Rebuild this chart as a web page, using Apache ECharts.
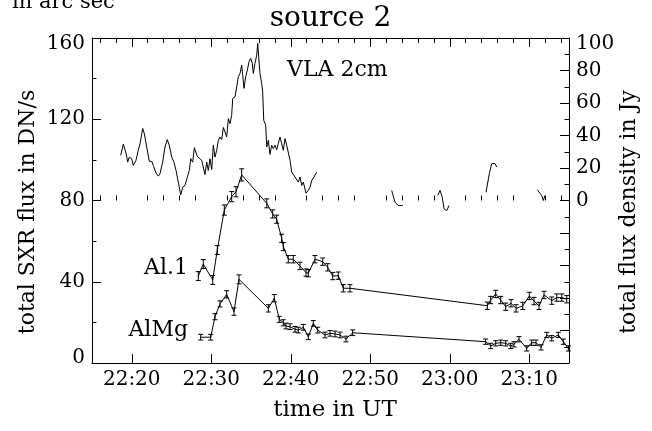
<!DOCTYPE html>
<html><head><meta charset="utf-8">
<script src="https://cdn.jsdelivr.net/npm/echarts@6/dist/echarts.min.js"></script>
<style>html,body{margin:0;padding:0;background:#fff}#c{width:652px;height:431px}</style>
</head><body><div id="c"></div>
<script>
// ---- data (time in minutes after 22:00 UT) ----
const xMin = 15, xMax = 75;
const xMajorTicks = [20, 30, 40, 50, 60, 70];
const xTickLabels = ['22:20', '22:30', '22:40', '22:50', '23:00', '23:10'];
const xMinorTicks = [16,18,22,24,26,28,32,34,36,38,42,44,46,48,52,54,56,58,62,64,66,68,72,74];

// VLA 2cm total flux density (Jy), null = data gap
const vlaTime = [18.61,18.94,19.28,19.49,19.69,19.99,20.20,20.53,20.82,21.04,
  21.38,21.58,21.88,22.21,22.51,22.71,23.05,23.34,23.55,23.89,
  24.18,24.47,24.72,25.03,25.31,25.57,25.86,26.16,26.41,26.70,
  26.99,27.24,27.42,27.67,27.87,28.08,28.25,28.50,28.80,29.00,
  29.21,29.43,29.63,29.84,30.06,30.26,30.47,30.69,30.89,31.10,
  31.32,31.52,31.73,31.94,32.15,32.36,32.57,32.70,32.99,33.20,
  33.40,33.62,33.83,33.96,34.12,34.33,34.54,34.75,34.96,35.16,
  35.29,35.50,35.72,35.84,35.97,36.13,36.35,36.47,36.60,36.85,
  36.98,37.18,37.39,37.60,37.81,38.02,38.23,38.43,38.65,38.86,
  39.06,39.28,39.49,39.69,39.91,40.12,40.41,40.66,40.95,41.16,
  41.38,41.58,41.92,42.21,42.42,42.64,42.92,43.26,
  48.0,
  52.70,53.11,53.53,54.08,
  56.0,
  58.49,58.78,59.06,59.28,59.62,59.91,
  62.0,
  64.56,64.98,65.28,65.69,65.91,
  68.5,
  71.01,71.57,71.77,71.98];
const vlaFlux = [27.8,34.6,29.2,23.6,26.7,25.7,21.6,24.7,30.9,35.0,
  44.3,41.2,32.9,24.1,24.1,21.6,16.9,15.0,16.5,23.6,
  32.9,37.5,34.0,26.7,23.6,18.5,11.3,3.5,8.2,9.3,
  14.4,18.5,25.7,23.6,32.5,31.9,27.2,28.4,24.7,25.1,
  16.0,23.6,18.5,25.7,19.0,34.0,26.7,30.9,37.0,39.1,
  37.5,44.9,42.2,39.1,50.4,47.3,52.5,62.8,63.8,69.9,
  76.1,78.2,83.3,84.4,69.0,76.1,80.2,85.4,87.5,84.4,
  78.2,84.4,89.5,96.7,97.7,78.2,72.0,66.9,49.4,46.3,
  32.9,37.0,28.4,34.0,31.9,34.0,31.3,35.0,39.1,35.0,
  30.9,38.1,34.0,35.0,24.7,17.5,15.4,16.5,11.3,14.4,
  9.3,11.3,4.5,6.2,8.2,12.3,14.4,17.5,
  null,
  6.2,-1.0,-3.1,-3.1,
  null,
  3.1,6.2,2.0,-5.1,-6.2,-3.1,
  null,
  5.1,16.5,22.7,22.7,20.6,
  null,
  6.6,3.1,0,3.1];

// Al.1 total SXR flux (DN/s)
const al1Time = [28.37,29.00,30.18,30.76,31.64,32.57,33.11,33.83,36.98,37.73,38.23,38.86,39.07,39.69,40.32,41.16,41.92,42.21,43.05,44.02,44.65,45.28,45.98,46.61,47.45,
  64.73,65.15,65.78,66.41,67.04,67.71,68.34,69.18,70.01,70.60,71.23,71.86,72.83,73.46,74.09,74.72];
const al1Flux = [42.8,48.7,40.9,55.6,75.3,81.9,84.3,92.6,78.6,73.4,70.8,61.4,57.3,51.1,51.1,47.8,44.5,44.2,51.1,49.9,47.1,42.8,43.0,36.8,36.8,
  28.2,31.0,34.0,31.0,27.7,29.4,26.9,28.1,33.0,30.5,28.1,33.5,30.7,32.2,32.2,31.4];
const al1Err = [2.2,2.2,2.2,2.2,2.5,2.5,2.5,3.0,2.2,2.0,2.0,2.0,2.0,1.8,1.8,1.8,1.8,1.8,1.8,1.8,1.8,1.8,1.8,1.8,1.8,
  1.8,1.8,1.8,1.8,1.8,1.8,1.8,1.8,1.8,1.8,1.8,1.8,1.8,1.8,1.8,1.8];

// AlMg total SXR flux (DN/s)
const almgTime = [28.67,29.93,30.47,31.10,31.94,32.86,33.49,37.18,37.93,38.56,39.06,39.40,39.91,40.54,40.95,41.58,42.21,42.84,43.39,44.31,44.94,45.57,46.20,46.95,47.79,
  64.52,65.15,65.78,66.41,67.04,67.67,68.08,68.71,69.68,70.31,70.85,71.48,72.20,72.83,73.66,74.29,74.92];
const almgFlux = [12.7,12.7,22.8,29.1,33.8,25.3,41.2,26.9,31.9,21.5,19.8,18.2,17.9,16.6,16.2,17.6,12.9,19.5,16.2,13.8,14.6,14.3,13.8,11.8,14.9,
  10.5,8.4,9.7,10.0,9.7,8.4,9.2,11.7,7.2,10.0,10.0,7.7,13.8,12.2,13.8,10.5,7.2];
const almgErr = [1.4,1.4,1.5,1.5,1.8,1.8,2.2,1.8,1.8,1.5,1.5,1.4,1.4,1.4,1.4,1.4,1.4,1.4,1.4,1.4,1.4,1.4,1.4,1.4,1.4,
  1.3,1.3,1.3,1.3,1.3,1.3,1.3,1.3,1.3,1.3,1.3,1.3,1.3,1.3,1.3,1.3,1.3];

// ---- chart ----
const FONT = '"DejaVu Serif", serif';
const BLACK = '#000';
function zip(a, b, c) {
  const n = Math.min(a.length, b.length);
  const out = [];
  for (let i = 0; i < n; i++) out.push(c ? [a[i], b[i], c[i]] : [a[i], b[i]]);
  return out;
}
function errRender(params, api) {
  const x = api.value(0), y = api.value(1), e = api.value(2);
  const hi = api.coord([x, y + e]), lo = api.coord([x, y - e]);
  const w = 2.5;
  const st = { stroke: BLACK, lineWidth: 1 };
  return { type: 'group', children: [
    { type: 'line', shape: { x1: hi[0], y1: hi[1], x2: lo[0], y2: lo[1] }, style: st },
    { type: 'line', shape: { x1: hi[0] - w, y1: hi[1], x2: hi[0] + w, y2: hi[1] }, style: st },
    { type: 'line', shape: { x1: lo[0] - w, y1: lo[1], x2: lo[0] + w, y2: lo[1] }, style: st }
  ]};
}
const lineSt = { color: BLACK, width: 1 };
function xAx(pos, major, showLine) {
  return {
    type: 'value', position: pos, min: xMin, max: xMax,
    axisLine: { show: showLine, lineStyle: lineSt },
    axisTick: { show: true, inside: true, length: major ? 9 : 5, customValues: major ? xMajorTicks : xMinorTicks, lineStyle: lineSt },
    axisLabel: (pos === 'bottom' && major) ? {
      show: true, customValues: xMajorTicks, color: BLACK, fontFamily: FONT, fontSize: 20, margin: 7,
      formatter: v => { const i = xMajorTicks.indexOf(v); return i >= 0 ? xTickLabels[i] : ''; }
    } : { show: false },
    splitLine: { show: false }
  };
}
const lblBase = { color: BLACK, fontFamily: FONT, fontSize: 20 };
const option = {
  animation: false,
  backgroundColor: '#fff',
  grid: { left: 92, right: 83, top: 38, bottom: 68, containLabel: false, outerBoundsMode: 'none' },
  xAxis: [ xAx('bottom', true, true), xAx('bottom', false, false), xAx('top', true, true), xAx('top', false, false) ],
  yAxis: [
    {
      type: 'value', position: 'left', min: 0, max: 160, interval: 40,
      axisLine: { show: true, lineStyle: lineSt },
      axisTick: { show: true, inside: true, length: 9, lineStyle: lineSt },
      minorTick: { show: true, splitNumber: 2, length: 4.5, lineStyle: lineSt },
      axisLabel: {
        margin: 7, ...lblBase,
        formatter: v => v === 160 ? '{t|160}' : (v === 0 ? '{b|0}' : '{n|' + v + '}'),
        rich: { t: { ...lblBase, padding: [12, 0, 0, 0] }, b: { ...lblBase, padding: [0, 0, 10, 0] }, n: { ...lblBase } }
      },
      splitLine: { show: false }, minorSplitLine: { show: false }
    },
    {
      type: 'value', position: 'right', min: -100, max: 100, interval: 20,
      axisLine: { show: true, lineStyle: lineSt },
      axisTick: { show: true, inside: true, length: 9, lineStyle: lineSt },
      minorTick: { show: true, splitNumber: 2, length: 4.5, lineStyle: lineSt },
      axisLabel: {
        margin: 7, ...lblBase,
        formatter: v => v < 0 ? '' : (v === 100 ? '{t|100}' : '{n|' + v + '}'),
        rich: { t: { ...lblBase, padding: [12, 0, 0, 0] }, n: { ...lblBase } }
      },
      splitLine: { show: false }, minorSplitLine: { show: false }
    }
  ],
  series: [
    { name: 'VLA 2cm', type: 'line', xAxisIndex: 0, yAxisIndex: 1, data: zip(vlaTime, vlaFlux),
      showSymbol: false, connectNulls: false, lineStyle: lineSt, itemStyle: { color: BLACK } },
    { name: 'Al.1', type: 'line', xAxisIndex: 0, yAxisIndex: 0, data: zip(al1Time, al1Flux),
      showSymbol: false, lineStyle: lineSt, itemStyle: { color: BLACK } },
    { name: 'Al.1 err', type: 'custom', xAxisIndex: 0, yAxisIndex: 0, data: zip(al1Time, al1Flux, al1Err),
      encode: { x: 0, y: 1 }, renderItem: errRender },
    { name: 'AlMg', type: 'line', xAxisIndex: 0, yAxisIndex: 0, data: zip(almgTime, almgFlux),
      showSymbol: false, lineStyle: lineSt, itemStyle: { color: BLACK } },
    { name: 'AlMg err', type: 'custom', xAxisIndex: 0, yAxisIndex: 0, data: zip(almgTime, almgFlux, almgErr),
      encode: { x: 0, y: 1 }, renderItem: errRender }
  ],
  graphic: [
    { type: 'text', x: 12, y: 3, style: { text: 'in arc sec', fontFamily: FONT, fontSize: 21, fill: BLACK, align: 'left', verticalAlign: 'middle' } },
    { type: 'text', x: 330.5, y: 19, style: { text: 'source 2', fontFamily: FONT, fontSize: 28, fill: BLACK, align: 'center', verticalAlign: 'middle' } },
    { type: 'text', x: 287, y: 70, style: { text: 'VLA 2cm', fontFamily: FONT, fontSize: 22, fill: BLACK, align: 'left', verticalAlign: 'middle' } },
    { type: 'text', x: 188, y: 268, style: { text: 'Al.1', fontFamily: FONT, fontSize: 22, fill: BLACK, align: 'right', verticalAlign: 'middle' } },
    { type: 'text', x: 188, y: 330, style: { text: 'AlMg', fontFamily: FONT, fontSize: 22, fill: BLACK, align: 'right', verticalAlign: 'middle' } },
    { type: 'text', x: 335, y: 410, style: { text: 'time in UT', fontFamily: FONT, fontSize: 23, fill: BLACK, align: 'center', verticalAlign: 'middle' } },
    { type: 'text', x: 28, y: 212, rotation: Math.PI / 2, style: { text: 'total SXR flux in DN/s', fontFamily: FONT, fontSize: 22, fill: BLACK, align: 'center', verticalAlign: 'middle' } },
    { type: 'text', x: 629, y: 212, rotation: Math.PI / 2, style: { text: 'total flux density in Jy', fontFamily: FONT, fontSize: 22, fill: BLACK, align: 'center', verticalAlign: 'middle' } }
  ]
};
const chart = echarts.init(document.getElementById('c'), null, { renderer: 'canvas' });
chart.setOption(option);
</script></body></html>
